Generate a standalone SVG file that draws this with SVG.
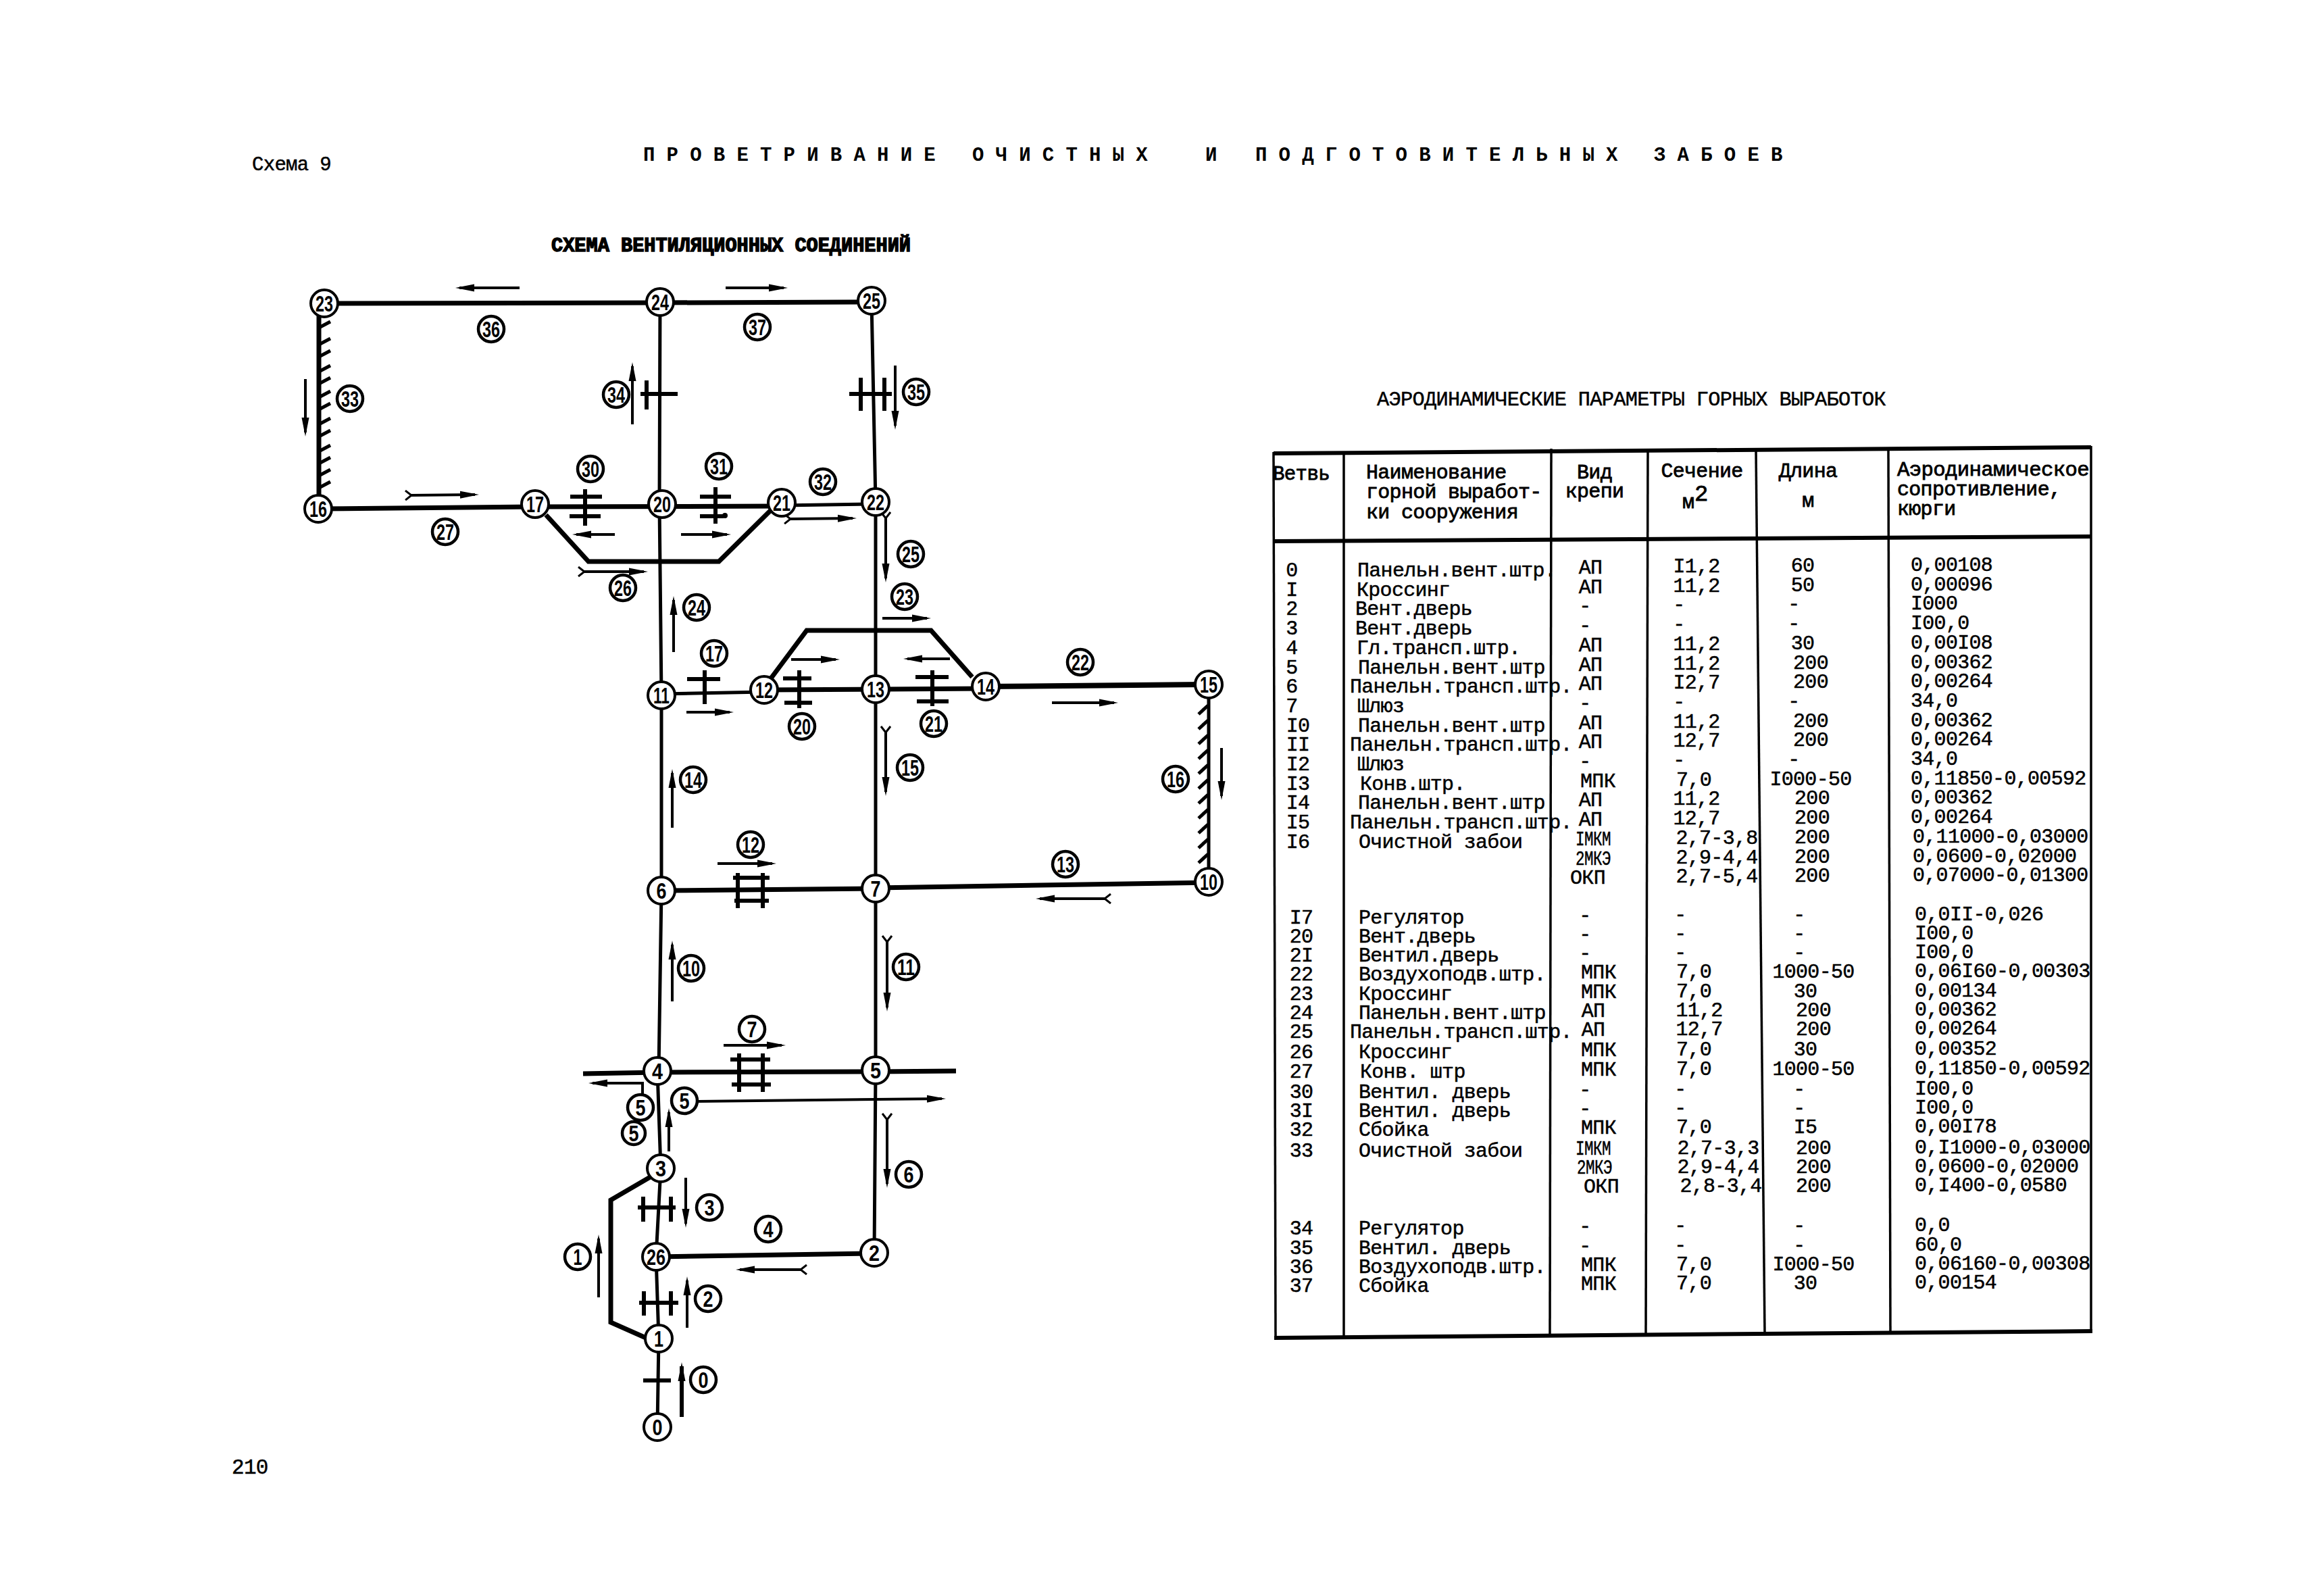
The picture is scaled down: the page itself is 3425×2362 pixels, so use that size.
<svg xmlns="http://www.w3.org/2000/svg" width="3425" height="2362" viewBox="0 0 3425 2362">
<style>
text{font-family:"Liberation Mono","DejaVu Sans Mono",monospace;fill:#000}
.t{font-size:30px;letter-spacing:-.7px;stroke:#000;stroke-width:.5px}
.m{text-anchor:middle}
.hd{font-size:30px;letter-spacing:-.7px;stroke:#000;stroke-width:.8px}
.ti{font-size:29px;font-weight:bold;letter-spacing:17.2px}
.bold{font-size:30px;font-weight:bold;stroke:#000;stroke-width:1.5px}
.w{fill:none;stroke:#000;stroke-linejoin:miter}
.w7{stroke-width:7}.w8{stroke-width:8}.w5{stroke-width:5}
.a{fill:none;stroke:#000;stroke-width:4;marker-end:url(#ah)}
.ft{marker-start:url(#ft)}
.dr{fill:none;stroke:#000;stroke-width:6}
.tk{fill:none;stroke:#000;stroke-width:5}
.gr{fill:none;stroke:#000;stroke-width:3.5}
.gb{fill:none;stroke:#000;stroke-width:6}
.nd circle{fill:#fff;stroke:#000;stroke-width:4}
.bl circle{fill:#fff;stroke:#000;stroke-width:4.5}
.nd text,.bl text{font-family:"Liberation Sans",Arial,sans-serif;font-size:33px;font-weight:bold;text-anchor:middle}
</style>
<defs>
<marker id="ah" markerUnits="userSpaceOnUse" markerWidth="30" markerHeight="14" refX="22" refY="7" orient="auto"><path d="M0 1.5L28 7L0 12.500Z" fill="#000"/></marker>
<marker id="ft" markerUnits="userSpaceOnUse" markerWidth="14" markerHeight="16" refX="9" refY="8" orient="auto"><path d="M1 1L10 8L1 15" fill="none" stroke="#000" stroke-width="3"/></marker>
</defs>
<rect width="3425" height="2362" fill="#fff"/>

<text class="t" x="373" y="252" style="font-size:29px">Схема 9</text>
<g id="title">
<text class="ti" x="952" y="238">ПРОВЕТРИВАНИЕ</text>
<text class="ti" x="1439" y="238">ОЧИСТНЫХ</text>
<text class="ti" x="1784" y="238">И</text>
<text class="ti" x="1858" y="238">ПОДГОТОВИТЕЛЬНЫХ</text>
<text class="ti" x="2448" y="238">ЗАБОЕВ</text>
</g>
<text class="bold" x="816" y="372" textLength="532" lengthAdjust="spacingAndGlyphs">СХЕМА ВЕНТИЛЯЦИОННЫХ СОЕДИНЕНИЙ</text>
<text class="t" x="2038" y="600" textLength="753" lengthAdjust="spacingAndGlyphs">АЭРОДИНАМИЧЕСКИЕ ПАРАМЕТРЫ ГОРНЫХ ВЫРАБОТОК</text>
<text class="t" x="343" y="2181" style="font-size:31px">210</text>

<g id="connectors">
<path class="w w7" d="M480 449L977 448L1290 447"/>
<path class="w w7" d="M472 449V753"/>
<path class="w w5" d="M977 448L976 746L979 1029L979 1318L975 1585"/>
<path class="w w5" d="M1290 447L1296 743V1020V1315V1584L1294 1854"/>
<path class="w w7" d="M471 753L792 750"/>
<path class="w w7" d="M792 750L1157 749"/>
<path class="w w5" d="M1157 748L1296 746"/>
<path class="w w7" d="M808 762L871 831H1064L1141 755"/>
<path class="w w5" d="M979 1027L1131 1024"/>
<path class="w w7" d="M1131 1021L1459 1019"/>
<path class="w w8" d="M1459 1016L1789 1013"/>
<path class="w w7" d="M1141 1004L1194 933H1378L1439 1002"/>
<path class="w w5" d="M1789 1013V1305"/>
<path class="w w7" d="M979 1318L1296 1315"/>
<path class="w w7" d="M1296 1314L1789 1306"/>
<path class="w w7" d="M863 1589L973 1587L1296 1586L1415 1585"/>
<path class="w w5" d="M973 1585L978 1729L971 1860L975 1981L973 2112"/>
<path class="w w7" d="M971 1860L1294 1855"/>
<path class="w w7" d="M964 1741L904 1776V1957L956 1980"/>

<path class="a" d="M769 426H680"/>
<path class="a" d="M1074 426H1160"/>
<path class="a" d="M452 561V640"/>
<path class="a" d="M936 628V542"/>
<path class="a" d="M1325 541V630"/>
<path class="a ft" d="M608 733L703 732"/>
<path class="a" d="M910 791H853"/>
<path class="a" d="M1008 791H1076"/>
<path class="a ft" d="M1169 768L1262 767"/>
<path class="a ft" d="M1311 766V856"/>
<path class="a ft" d="M864 846H953"/>
<path class="a" d="M997 965V888"/>
<path class="a" d="M1306 915H1372"/>
<path class="a" d="M1016 1054H1080"/>
<path class="a" d="M1171 976H1237"/>
<path class="a" d="M1406 975H1343"/>
<path class="a" d="M1557 1040H1649"/>
<path class="a" d="M1808 1107V1178"/>
<path class="a ft" d="M1311 1083V1172"/>
<path class="a" d="M995 1225V1144"/>
<path class="a" d="M1062 1278H1143"/>
<path class="a ft" d="M1636 1330H1539"/>
<path class="a" d="M995 1482V1398"/>
<path class="a ft" d="M1313 1393V1491"/>
<path class="a" d="M1071 1547H1157"/>
<path class="a" d="M1033 1630L1394 1626"/>
<path class="a" d="M951 1619V1603H877"/>
<path class="a" d="M990 1704V1646"/>
<path class="a ft" d="M1313 1656V1752"/>
<path class="a" d="M1015 1743V1811"/>
<path class="a ft" d="M1186 1879H1095"/>
<path class="a" d="M1017 1965V1895"/>
<path class="a" d="M886 1920V1833"/>
<path class="a" d="M1009 2097V2022" style="stroke-width:6"/>
</g>

<g id="hatching">
<path class="tk" d="M472 485l17-9M472 510l17-9M472 528l17-9M472 550l17-9M472 568l17-9M472 588l17-9M472 606l17-9M472 628l17-9M472 646l17-9M472 668l17-9M472 686l17-9M472 704l17-9M472 722l17-9"/>
<path class="tk" d="M1788 1044l-14 13M1788 1066l-14 13M1788 1088l-14 13M1788 1110l-14 13M1788 1132l-14 13M1788 1154l-14 13M1788 1176l-14 13M1788 1198l-14 13M1788 1220l-14 13M1788 1242l-14 13M1788 1264l-14 13"/>
</g>

<g id="doors">
<path class="dr" d="M948 583H1003M957 563V606"/>
<path class="dr" d="M1257 583H1320M1274 559V608M1309 559V608"/>
<path class="dr" d="M844 735H891M843 764H889M866 724V778"/>
<path class="dr" d="M1036 735H1082M1036 764H1071M1059 721V775"/>
<circle cx="1073" cy="763" r="4"/>
<path class="dr" d="M1017 1005H1066M1043 992V1042"/>
<path class="dr" d="M1159 1004H1201M1161 1040H1202M1183 992V1048"/>
<path class="dr" d="M1355 1002H1404M1357 1038H1404M1380 992V1045"/>
<path class="dr" d="M1085 1299H1139M1087 1333H1138M1092 1292V1344M1129 1292V1344"/>
<path class="dr" d="M1081 1568H1140M1083 1605H1141M1094 1559V1616M1129 1559V1616"/>
<path class="dr" d="M944 1787H1000M952 1771V1808M993 1771V1808"/>
<path class="dr" d="M946 1928H1004M953 1911V1947M993 1911V1947"/>
<path class="dr" d="M952 2043H993"/>
</g>

<g class="nd">
<g id="n23"><circle cx="480" cy="449" r="20"/><text x="480" y="461" textLength="26" lengthAdjust="spacingAndGlyphs">23</text></g>
<g id="n24"><circle cx="977" cy="447" r="20"/><text x="977" y="459" textLength="26" lengthAdjust="spacingAndGlyphs">24</text></g>
<g id="n25"><circle cx="1290" cy="445" r="20"/><text x="1290" y="457" textLength="26" lengthAdjust="spacingAndGlyphs">25</text></g>
<g id="n16"><circle cx="471" cy="753" r="20"/><text x="471" y="765" textLength="26" lengthAdjust="spacingAndGlyphs">16</text></g>
<g id="n17"><circle cx="792" cy="746" r="20"/><text x="792" y="758" textLength="26" lengthAdjust="spacingAndGlyphs">17</text></g>
<g id="n20"><circle cx="980" cy="746" r="20"/><text x="980" y="758" textLength="26" lengthAdjust="spacingAndGlyphs">20</text></g>
<g id="n21"><circle cx="1157" cy="744" r="20"/><text x="1157" y="756" textLength="26" lengthAdjust="spacingAndGlyphs">21</text></g>
<g id="n22"><circle cx="1296" cy="743" r="20"/><text x="1296" y="755" textLength="26" lengthAdjust="spacingAndGlyphs">22</text></g>
<g id="n11"><circle cx="979" cy="1029" r="20"/><text x="979" y="1041" textLength="24" lengthAdjust="spacingAndGlyphs">11</text></g>
<g id="n12"><circle cx="1131" cy="1021" r="20"/><text x="1131" y="1033" textLength="26" lengthAdjust="spacingAndGlyphs">12</text></g>
<g id="n13"><circle cx="1296" cy="1020" r="20"/><text x="1296" y="1032" textLength="26" lengthAdjust="spacingAndGlyphs">13</text></g>
<g id="n14"><circle cx="1459" cy="1016" r="20"/><text x="1459" y="1028" textLength="26" lengthAdjust="spacingAndGlyphs">14</text></g>
<g id="n15"><circle cx="1789" cy="1013" r="20"/><text x="1789" y="1025" textLength="26" lengthAdjust="spacingAndGlyphs">15</text></g>
<g id="n6"><circle cx="979" cy="1318" r="20"/><text x="979" y="1330" textLength="15" lengthAdjust="spacingAndGlyphs">6</text></g>
<g id="n7"><circle cx="1296" cy="1315" r="20"/><text x="1296" y="1327" textLength="15" lengthAdjust="spacingAndGlyphs">7</text></g>
<g id="n10"><circle cx="1789" cy="1305" r="20"/><text x="1789" y="1317" textLength="26" lengthAdjust="spacingAndGlyphs">10</text></g>
<g id="n4"><circle cx="973" cy="1585" r="20"/><text x="973" y="1597" textLength="16" lengthAdjust="spacingAndGlyphs">4</text></g>
<g id="n5"><circle cx="1296" cy="1584" r="20"/><text x="1296" y="1596" textLength="16" lengthAdjust="spacingAndGlyphs">5</text></g>
<g id="n3"><circle cx="978" cy="1729" r="20"/><text x="978" y="1741" textLength="16" lengthAdjust="spacingAndGlyphs">3</text></g>
<g id="n26"><circle cx="971" cy="1860" r="20"/><text x="971" y="1872" textLength="28" lengthAdjust="spacingAndGlyphs">26</text></g>
<g id="n2"><circle cx="1294" cy="1854" r="20"/><text x="1294" y="1866" textLength="16" lengthAdjust="spacingAndGlyphs">2</text></g>
<g id="n1"><circle cx="975" cy="1981" r="20"/><text x="975" y="1993" textLength="14" lengthAdjust="spacingAndGlyphs">1</text></g>
<g id="n0"><circle cx="973" cy="2112" r="20"/><text x="973" y="2124" textLength="15" lengthAdjust="spacingAndGlyphs">0</text></g>
</g>

<g class="bl">
<g id="b36"><circle cx="727" cy="487" r="19"/><text x="727" y="499" textLength="26" lengthAdjust="spacingAndGlyphs">36</text></g>
<g id="b37"><circle cx="1121" cy="484" r="19"/><text x="1121" y="496" textLength="26" lengthAdjust="spacingAndGlyphs">37</text></g>
<g id="b33"><circle cx="518" cy="590" r="19"/><text x="518" y="602" textLength="26" lengthAdjust="spacingAndGlyphs">33</text></g>
<g id="b34"><circle cx="912" cy="584" r="19"/><text x="912" y="596" textLength="26" lengthAdjust="spacingAndGlyphs">34</text></g>
<g id="b35"><circle cx="1356" cy="580" r="19"/><text x="1356" y="592" textLength="26" lengthAdjust="spacingAndGlyphs">35</text></g>
<g id="b30"><circle cx="874" cy="694" r="19"/><text x="874" y="706" textLength="26" lengthAdjust="spacingAndGlyphs">30</text></g>
<g id="b31"><circle cx="1064" cy="690" r="19"/><text x="1064" y="702" textLength="26" lengthAdjust="spacingAndGlyphs">31</text></g>
<g id="b32"><circle cx="1218" cy="713" r="19"/><text x="1218" y="725" textLength="26" lengthAdjust="spacingAndGlyphs">32</text></g>
<g id="b27"><circle cx="659" cy="787" r="19"/><text x="659" y="799" textLength="26" lengthAdjust="spacingAndGlyphs">27</text></g>
<g id="b26"><circle cx="922" cy="870" r="19"/><text x="922" y="882" textLength="26" lengthAdjust="spacingAndGlyphs">26</text></g>
<g id="b25"><circle cx="1348" cy="820" r="19"/><text x="1348" y="832" textLength="26" lengthAdjust="spacingAndGlyphs">25</text></g>
<g id="b23"><circle cx="1339" cy="883" r="19"/><text x="1339" y="895" textLength="26" lengthAdjust="spacingAndGlyphs">23</text></g>
<g id="b24"><circle cx="1031" cy="899" r="19"/><text x="1031" y="911" textLength="26" lengthAdjust="spacingAndGlyphs">24</text></g>
<g id="b17"><circle cx="1057" cy="967" r="19"/><text x="1057" y="979" textLength="26" lengthAdjust="spacingAndGlyphs">17</text></g>
<g id="b20"><circle cx="1187" cy="1075" r="19"/><text x="1187" y="1087" textLength="26" lengthAdjust="spacingAndGlyphs">20</text></g>
<g id="b21"><circle cx="1382" cy="1071" r="19"/><text x="1382" y="1083" textLength="26" lengthAdjust="spacingAndGlyphs">21</text></g>
<g id="b22"><circle cx="1599" cy="980" r="19"/><text x="1599" y="992" textLength="26" lengthAdjust="spacingAndGlyphs">22</text></g>
<g id="b16"><circle cx="1740" cy="1153" r="19"/><text x="1740" y="1165" textLength="26" lengthAdjust="spacingAndGlyphs">16</text></g>
<g id="b15"><circle cx="1347" cy="1136" r="19"/><text x="1347" y="1148" textLength="26" lengthAdjust="spacingAndGlyphs">15</text></g>
<g id="b14"><circle cx="1026" cy="1154" r="19"/><text x="1026" y="1166" textLength="26" lengthAdjust="spacingAndGlyphs">14</text></g>
<g id="b13"><circle cx="1577" cy="1279" r="19"/><text x="1577" y="1291" textLength="26" lengthAdjust="spacingAndGlyphs">13</text></g>
<g id="b12"><circle cx="1111" cy="1250" r="19"/><text x="1111" y="1262" textLength="26" lengthAdjust="spacingAndGlyphs">12</text></g>
<g id="b10"><circle cx="1023" cy="1433" r="19"/><text x="1023" y="1445" textLength="26" lengthAdjust="spacingAndGlyphs">10</text></g>
<g id="b11"><circle cx="1341" cy="1431" r="19"/><text x="1341" y="1443" textLength="26" lengthAdjust="spacingAndGlyphs">11</text></g>
<g id="b7"><circle cx="1113" cy="1523" r="19"/><text x="1113" y="1535" textLength="15" lengthAdjust="spacingAndGlyphs">7</text></g>
<g id="b5a"><circle cx="1013" cy="1629" r="19"/><text x="1013" y="1641" textLength="15" lengthAdjust="spacingAndGlyphs">5</text></g>
<g id="b5b"><circle cx="948" cy="1639" r="19"/><text x="948" y="1651" textLength="15" lengthAdjust="spacingAndGlyphs">5</text></g>
<g id="b5c"><circle cx="938" cy="1677" r="17"/><text x="938" y="1689" textLength="15" lengthAdjust="spacingAndGlyphs">5</text></g>
<g id="b6"><circle cx="1345" cy="1738" r="19"/><text x="1345" y="1750" textLength="15" lengthAdjust="spacingAndGlyphs">6</text></g>
<g id="b3"><circle cx="1050" cy="1787" r="19"/><text x="1050" y="1799" textLength="15" lengthAdjust="spacingAndGlyphs">3</text></g>
<g id="b4"><circle cx="1137" cy="1819" r="19"/><text x="1137" y="1831" textLength="15" lengthAdjust="spacingAndGlyphs">4</text></g>
<g id="b2"><circle cx="1048" cy="1922" r="19"/><text x="1048" y="1934" textLength="15" lengthAdjust="spacingAndGlyphs">2</text></g>
<g id="b1"><circle cx="855" cy="1860" r="19"/><text x="855" y="1872" textLength="13" lengthAdjust="spacingAndGlyphs">1</text></g>
<g id="b0"><circle cx="1041" cy="2042" r="19"/><text x="1041" y="2054" textLength="15" lengthAdjust="spacingAndGlyphs">0</text></g>
</g>

<g id="table-grid">
<path class="gb" d="M1885 671L3095 662"/>
<path class="gb" d="M1885 801L3095 794"/>
<path class="gb" d="M1886 1980L3097 1970"/>
<path class="gr" d="M1885 669L1888 1980"/>
<path class="gr" d="M1989 668V1978"/>
<path class="gr" d="M2296 664L2294 1977"/>
<path class="gr" d="M2439 665L2436 1976"/>
<path class="gr" d="M2599 664L2612 1973"/>
<path class="gr" d="M2795 664L2798 1972"/>
<path class="gr" d="M3095 660V1972"/>
</g>

<g id="table-header">
<text class="hd" x="1884" y="710" textLength="84" lengthAdjust="spacingAndGlyphs">Ветвь</text>
<text class="hd" x="2022" y="708">Наименование</text>
<text class="hd" x="2022" y="737">горной выработ-</text>
<text class="hd" x="2022" y="767">ки сооружения</text>
<text class="hd m" x="2360" y="708">Вид</text>
<text class="hd m" x="2360" y="736">крепи</text>
<text class="hd m" x="2519" y="706">Сечение</text>
<text class="hd" x="2490" y="752">м</text>
<text class="hd" x="2508" y="741" style="font-size:34px">2</text>
<text class="hd m" x="2676" y="706">Длина</text>
<text class="hd m" x="2676" y="750">м</text>
<text class="hd" x="2808" y="704" textLength="284" lengthAdjust="spacingAndGlyphs">Аэродинамическое</text>
<text class="hd" x="2808" y="733">сопротивление,</text>
<text class="hd" x="2808" y="762">кюрги</text>
</g>

<g id="col-branch">
<text class="t m" x="1912" y="853">0</text><text class="t m" x="1912" y="882">I</text><text class="t m" x="1912" y="910">2</text><text class="t m" x="1912" y="939">3</text><text class="t m" x="1912" y="968">4</text><text class="t m" x="1912" y="997">5</text><text class="t m" x="1912" y="1025">6</text><text class="t m" x="1912" y="1054">7</text>
<text class="t m" x="1921" y="1083">I0</text><text class="t m" x="1921" y="1111">II</text><text class="t m" x="1921" y="1140">I2</text><text class="t m" x="1921" y="1169">I3</text><text class="t m" x="1921" y="1197">I4</text><text class="t m" x="1921" y="1226">I5</text><text class="t m" x="1921" y="1255">I6</text>
<text class="t m" x="1926" y="1367">I7</text><text class="t m" x="1926" y="1395">20</text><text class="t m" x="1926" y="1423">2I</text><text class="t m" x="1926" y="1451">22</text><text class="t m" x="1926" y="1480">23</text><text class="t m" x="1926" y="1508">24</text><text class="t m" x="1926" y="1536">25</text><text class="t m" x="1926" y="1566">26</text><text class="t m" x="1926" y="1595">27</text><text class="t m" x="1926" y="1625">30</text><text class="t m" x="1926" y="1653">3I</text><text class="t m" x="1926" y="1681">32</text><text class="t m" x="1926" y="1712">33</text>
<text class="t m" x="1926" y="1827">34</text><text class="t m" x="1926" y="1856">35</text><text class="t m" x="1926" y="1884">36</text><text class="t m" x="1926" y="1912">37</text>
</g>

<g id="col-name">
<text class="t" x="2009" y="853">Панельн.вент.штр.</text>
<text class="t" x="2008" y="882">Кроссинг</text>
<text class="t" x="2006" y="910">Вент.дверь</text>
<text class="t" x="2006" y="939">Вент.дверь</text>
<text class="t" x="2008" y="968">Гл.трансп.штр.</text>
<text class="t" x="2010" y="997">Панельн.вент.штр</text>
<text class="t" x="1998" y="1025">Панельн.трансп.штр.</text>
<text class="t" x="2009" y="1054">Шлюз</text>
<text class="t" x="2010" y="1083">Панельн.вент.штр</text>
<text class="t" x="1998" y="1111">Панельн.трансп.штр.</text>
<text class="t" x="2009" y="1140">Шлюз</text>
<text class="t" x="2013" y="1169">Конв.штр.</text>
<text class="t" x="2010" y="1197">Панельн.вент.штр</text>
<text class="t" x="1998" y="1226">Панельн.трансп.штр.</text>
<text class="t" x="2011" y="1255">Очистной забои</text>
<text class="t" x="2011" y="1367">Регулятор</text>
<text class="t" x="2011" y="1395">Вент.дверь</text>
<text class="t" x="2011" y="1423">Вентил.дверь</text>
<text class="t" x="2011" y="1451">Воздухоподв.штр.</text>
<text class="t" x="2011" y="1480">Кроссинг</text>
<text class="t" x="2011" y="1508">Панельн.вент.штр</text>
<text class="t" x="1998" y="1536">Панельн.трансп.штр.</text>
<text class="t" x="2011" y="1566">Кроссинг</text>
<text class="t" x="2013" y="1595">Конв. штр</text>
<text class="t" x="2011" y="1625">Вентил. дверь</text>
<text class="t" x="2011" y="1653">Вентил. дверь</text>
<text class="t" x="2011" y="1681">Сбойка</text>
<text class="t" x="2011" y="1712">Очистной забои</text>
<text class="t" x="2011" y="1827">Регулятор</text>
<text class="t" x="2011" y="1856">Вентил. дверь</text>
<text class="t" x="2011" y="1884">Воздухоподв.штр.</text>
<text class="t" x="2011" y="1912">Сбойка</text>
</g>

<g id="col-support-top" transform="translate(0,-4)">
<text class="t m" x="2354" y="853">АП</text><text class="t m" x="2354" y="882">АП</text><text class="t m" x="2346" y="910">-</text><text class="t m" x="2346" y="939">-</text><text class="t m" x="2354" y="968">АП</text><text class="t m" x="2354" y="997">АП</text><text class="t m" x="2354" y="1025">АП</text><text class="t m" x="2346" y="1054">-</text><text class="t m" x="2354" y="1083">АП</text><text class="t m" x="2354" y="1111">АП</text><text class="t m" x="2346" y="1140">-</text><text class="t m" x="2365" y="1169">МПК</text><text class="t m" x="2354" y="1197">АП</text><text class="t m" x="2354" y="1226">АП</text>
<text class="t m" x="2358" y="1255" textLength="52" lengthAdjust="spacingAndGlyphs">IМКМ</text><text class="t m" x="2358" y="1284" textLength="52" lengthAdjust="spacingAndGlyphs">2МКЭ</text><text class="t m" x="2350" y="1312">ОКП</text>
</g>
<g id="col-support-bottom" transform="translate(0,-3)">
<text class="t m" x="2346" y="1367">-</text><text class="t m" x="2346" y="1395">-</text><text class="t m" x="2346" y="1423">-</text><text class="t m" x="2366" y="1451">МПК</text><text class="t m" x="2366" y="1480">МПК</text><text class="t m" x="2358" y="1508">АП</text><text class="t m" x="2358" y="1536">АП</text><text class="t m" x="2366" y="1566">МПК</text><text class="t m" x="2366" y="1595">МПК</text><text class="t m" x="2346" y="1625">-</text><text class="t m" x="2346" y="1653">-</text><text class="t m" x="2366" y="1681">МПК</text>
<text class="t m" x="2358" y="1712" textLength="52" lengthAdjust="spacingAndGlyphs">IМКМ</text><text class="t m" x="2360" y="1740" textLength="52" lengthAdjust="spacingAndGlyphs">2МКЭ</text><text class="t m" x="2370" y="1768">ОКП</text>
<text class="t m" x="2346" y="1827">-</text><text class="t m" x="2346" y="1856">-</text><text class="t m" x="2366" y="1884">МПК</text><text class="t m" x="2366" y="1912">МПК</text>
</g>

<g id="col-section-top" transform="translate(0,-6)">
<text class="t m" x="2511" y="853">I1,2</text><text class="t m" x="2511" y="882">11,2</text><text class="t m" x="2485" y="910">-</text><text class="t m" x="2485" y="939">-</text><text class="t m" x="2511" y="968">11,2</text><text class="t m" x="2511" y="997">11,2</text><text class="t m" x="2511" y="1025">I2,7</text><text class="t m" x="2485" y="1054">-</text><text class="t m" x="2511" y="1083">11,2</text><text class="t m" x="2511" y="1111">12,7</text><text class="t m" x="2485" y="1140">-</text><text class="t m" x="2507" y="1169">7,0</text><text class="t m" x="2511" y="1197">11,2</text><text class="t m" x="2511" y="1226">12,7</text><text class="t m" x="2541" y="1255">2,7-3,8</text><text class="t m" x="2541" y="1284">2,9-4,4</text><text class="t m" x="2541" y="1312">2,7-5,4</text>
</g>
<g id="col-section-bottom" transform="translate(0,-4)">
<text class="t m" x="2487" y="1367">-</text><text class="t m" x="2487" y="1395">-</text><text class="t m" x="2487" y="1423">-</text><text class="t m" x="2507" y="1451">7,0</text><text class="t m" x="2507" y="1480">7,0</text><text class="t m" x="2515" y="1508">11,2</text><text class="t m" x="2515" y="1536">12,7</text><text class="t m" x="2507" y="1566">7,0</text><text class="t m" x="2507" y="1595">7,0</text><text class="t m" x="2487" y="1625">-</text><text class="t m" x="2487" y="1653">-</text><text class="t m" x="2507" y="1681">7,0</text><text class="t m" x="2543" y="1712">2,7-3,3</text><text class="t m" x="2543" y="1740">2,9-4,4</text><text class="t m" x="2547" y="1768">2,8-3,4</text><text class="t m" x="2487" y="1827">-</text><text class="t m" x="2487" y="1856">-</text><text class="t m" x="2507" y="1884">7,0</text><text class="t m" x="2507" y="1912">7,0</text>
</g>

<g id="col-length-top" transform="translate(0,-7)">
<text class="t m" x="2668" y="853">60</text><text class="t m" x="2668" y="882">50</text><text class="t m" x="2655" y="910">-</text><text class="t m" x="2655" y="939">-</text><text class="t m" x="2668" y="968">30</text><text class="t m" x="2680" y="997">200</text><text class="t m" x="2680" y="1025">200</text><text class="t m" x="2655" y="1054">-</text><text class="t m" x="2680" y="1083">200</text><text class="t m" x="2680" y="1111">200</text><text class="t m" x="2655" y="1140">-</text><text class="t m" x="2680" y="1169">I000-50</text><text class="t m" x="2682" y="1197">200</text><text class="t m" x="2682" y="1226">200</text><text class="t m" x="2682" y="1255">200</text><text class="t m" x="2682" y="1284">200</text><text class="t m" x="2682" y="1312">200</text>
</g>
<g id="col-length-bottom" transform="translate(0,-4)">
<text class="t m" x="2663" y="1367">-</text><text class="t m" x="2663" y="1395">-</text><text class="t m" x="2663" y="1423">-</text><text class="t m" x="2684" y="1451">1000-50</text><text class="t m" x="2672" y="1480">30</text><text class="t m" x="2684" y="1508">200</text><text class="t m" x="2684" y="1536">200</text><text class="t m" x="2672" y="1566">30</text><text class="t m" x="2684" y="1595">1000-50</text><text class="t m" x="2663" y="1625">-</text><text class="t m" x="2663" y="1653">-</text><text class="t m" x="2672" y="1681">I5</text><text class="t m" x="2684" y="1712">200</text><text class="t m" x="2684" y="1740">200</text><text class="t m" x="2684" y="1768">200</text><text class="t m" x="2663" y="1827">-</text><text class="t m" x="2663" y="1856">-</text><text class="t m" x="2684" y="1884">I000-50</text><text class="t m" x="2672" y="1912">30</text>
</g>

<g id="col-resistance-top" transform="translate(0,-8)">
<text class="t" x="2828" y="853">0,00108</text><text class="t" x="2828" y="882">0,00096</text><text class="t" x="2828" y="910">I000</text><text class="t" x="2828" y="939">I00,0</text><text class="t" x="2828" y="968">0,00I08</text><text class="t" x="2828" y="997">0,00362</text><text class="t" x="2828" y="1025">0,00264</text><text class="t" x="2828" y="1054">34,0</text><text class="t" x="2828" y="1083">0,00362</text><text class="t" x="2828" y="1111">0,00264</text><text class="t" x="2828" y="1140">34,0</text><text class="t" x="2828" y="1169">0,11850-0,00592</text><text class="t" x="2828" y="1197">0,00362</text><text class="t" x="2828" y="1226">0,00264</text><text class="t" x="2831" y="1255">0,11000-0,03000</text><text class="t" x="2831" y="1284">0,0600-0,02000</text><text class="t" x="2831" y="1312">0,07000-0,01300</text>
</g>
<g id="col-resistance-bottom" transform="translate(0,-5)">
<text class="t" x="2834" y="1367">0,0II-0,026</text><text class="t" x="2834" y="1395">I00,0</text><text class="t" x="2834" y="1423">I00,0</text><text class="t" x="2834" y="1451">0,06I60-0,00303</text><text class="t" x="2834" y="1480">0,00134</text><text class="t" x="2834" y="1508">0,00362</text><text class="t" x="2834" y="1536">0,00264</text><text class="t" x="2834" y="1566">0,00352</text><text class="t" x="2834" y="1595">0,11850-0,00592</text><text class="t" x="2834" y="1625">I00,0</text><text class="t" x="2834" y="1653">I00,0</text><text class="t" x="2834" y="1681">0,00I78</text><text class="t" x="2834" y="1712">0,I1000-0,03000</text><text class="t" x="2834" y="1740">0,0600-0,02000</text><text class="t" x="2834" y="1768">0,I400-0,0580</text><text class="t" x="2834" y="1827">0,0</text><text class="t" x="2834" y="1856">60,0</text><text class="t" x="2834" y="1884">0,06160-0,00308</text><text class="t" x="2834" y="1912">0,00154</text>
</g>
</svg>
